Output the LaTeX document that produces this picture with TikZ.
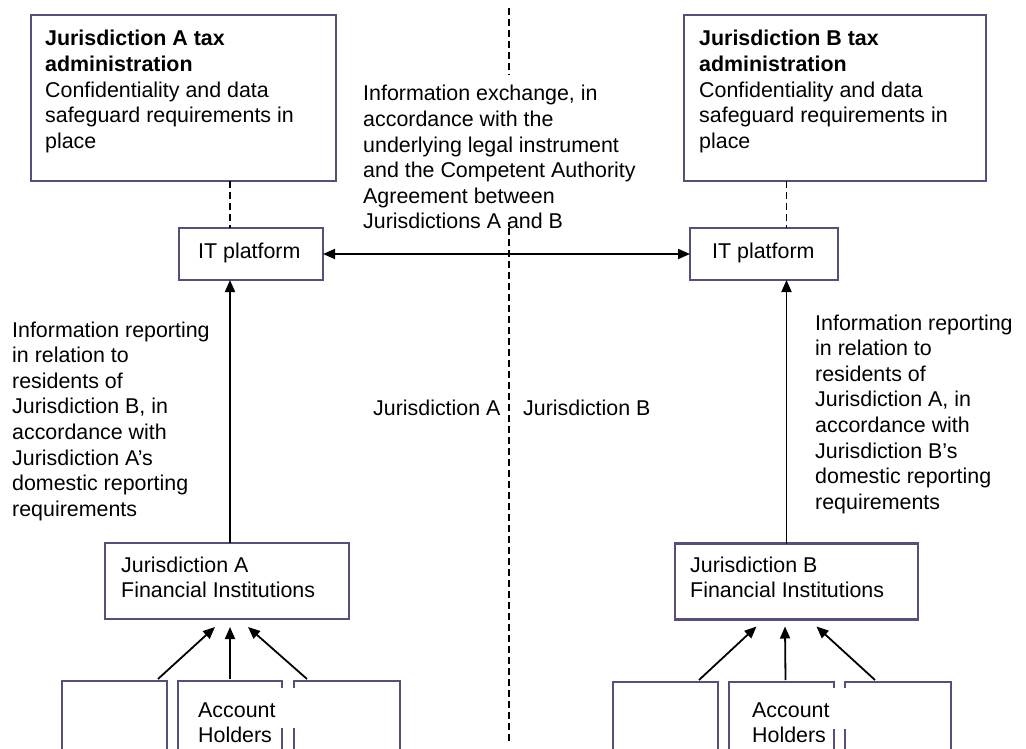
\documentclass[tikz,border=0pt]{standalone}
\usepackage{fontspec}
\setmainfont{Liberation Sans}
\usetikzlibrary{arrows.meta,calc}
\definecolor{boxpurple}{RGB}{90,77,126}
\newcommand{\lns}[1]{\begin{tabular}[t]{@{}l@{}}#1\end{tabular}}
\begin{document}
\begin{tikzpicture}[x=1pt,y=-1pt,
  font=\fontsize{21.4pt}{25.6pt}\selectfont,
  box/.style={draw=boxpurple, line width=2.8pt, rectangle, inner sep=0pt, outer sep=0pt},
  txt/.style={anchor=base west, inner sep=0pt},
  conn/.style={line width=1.8pt, -{Triangle[length=12pt,width=10pt]}},
  dconn/.style={line width=1.8pt, {Triangle[length=12pt,width=10pt]}-{Triangle[length=12pt,width=10pt]}},
  dline/.style={line width=1.6pt, dash pattern=on 7pt off 4pt}]
\useasboundingbox (0,0) rectangle (1026,749);
\clip (0,0) rectangle (1026,749);

% column guides
\coordinate (colA) at (230,0);
\coordinate (colB) at (786.5,0);
\coordinate (ctop) at (509,8);
\coordinate (cbot) at (509,741);

% central dashed border
\draw[dline] (ctop) -- (cbot);

% boxes
\node[box, minimum width=305pt, minimum height=166pt] (taxA) at (183.5,98) {};
\node[box, minimum width=302pt, minimum height=166pt] (taxB) at (835,98) {};
\node[box, minimum width=144pt, minimum height=52pt] (itA) at (251,254) {};
\node[box, minimum width=148pt, minimum height=52pt] (itB) at (764,254) {};
\node[box, minimum width=244pt, minimum height=76pt] (fiA) at (227,581) {};
\node[box, minimum width=243pt, minimum height=76pt] (fiB) at (796.5,581.5) {};

\node[box, anchor=north west, minimum width=105pt, minimum height=90pt] (ahA1) at (62,681) {};
\node[box, anchor=north west, minimum width=104pt, minimum height=90pt] (ahA2) at (178,681) {};
\node[box, anchor=north west, minimum width=106pt, minimum height=90pt] (ahA3) at (294,681) {};
\node[box, anchor=north west, minimum width=105pt, minimum height=90pt] (ahB1) at (613,682) {};
\node[box, anchor=north west, minimum width=105pt, minimum height=90pt] (ahB2) at (729,682) {};
\node[box, anchor=north west, minimum width=106pt, minimum height=90pt] (ahB3) at (845,682) {};

% texts in tax boxes
\node[txt] (tA) at (45,46) {\lns{\textbf{Jurisdiction A tax}\\ \textbf{administration}\\ Confidentiality and data\\ safeguard requirements in\\ place}};
\node[txt] (tB) at (699,46) {\lns{\textbf{Jurisdiction B tax}\\ \textbf{administration}\\ Confidentiality and data\\ safeguard requirements in\\ place}};

% dashed links tax -> IT
\draw[dline] (taxA.south -| colA) -- (itA.north -| colA);
\draw[dline] (taxB.south -| colB) -- (itB.north -| colB);

% IT platform labels
\node[txt] (itAt) at (198,258) {IT platform};
\node[txt] (itBt) at (712,258) {IT platform};

% exchange arrow
\draw[dconn] (itA.east) -- (itB.west);

% central text with white backing
\fill[white] (355,75) rectangle (665,222);
\node[txt] (exch) at (363,101) {\lns{Information exchange, in\\ accordance with the\\ underlying legal instrument\\ and the Competent Authority\\ Agreement between\\ Jurisdictions A and B}};

% jurisdiction labels
\node[txt] (jA) at (373,415) {Jurisdiction A};
\node[txt] (jB) at (523,415) {Jurisdiction B};

% reporting texts
\node[txt] (repA) at (12,337) {\lns{Information reporting\\ in relation to\\ residents of\\ Jurisdiction B, in\\ accordance with\\ Jurisdiction A’s\\ domestic reporting\\ requirements}};
\node[txt] (repB) at (815,330) {\lns{Information reporting\\ in relation to\\ residents of\\ Jurisdiction A, in\\ accordance with\\ Jurisdiction B’s\\ domestic reporting\\ requirements}};

% reporting arrows
\draw[conn] (fiA.north -| colA) -- (itA.south -| colA);
\draw[conn] (fiB.north -| colB) -- (itB.south -| colB);

% FI labels
\node[txt] (fiAt) at (121,572) {\lns{Jurisdiction A\\ Financial Institutions}};
\node[txt] (fiBt) at (690,572) {\lns{Jurisdiction B\\ Financial Institutions}};

% account holder arrows
\draw[conn] ($(ahA1.north east)+(-9,-2)$) -- ($(fiA.south)+(-12,8)$);
\draw[conn] ($(ahA2.north)+(0,-2)$) -- ($(fiA.south)+(3,8)$);
\draw[conn] ($(ahA3.north west)+(13,-2)$) -- ($(fiA.south)+(21,8)$);
\draw[conn] ($(ahB1.north east)+(-19,-2)$) -- ($(fiB.south)+(-40,7)$);
\draw[conn] ($(ahB2.north)+(4,-2)$) -- ($(fiB.south)+(-11.5,7)$);
\draw[conn] ($(ahB3.north west)+(30,-2)$) -- ($(fiB.south)+(20,7)$);

% account holders labels with white backing
\fill[white] (182,688) rectangle (298,728);
\fill[white] (736,688) rectangle (851,729);
\node[txt] (ahAt) at (198,717) {\lns{Account\\ Holders}};
\node[txt] (ahBt) at (752,717) {\lns{Account\\ Holders}};
\end{tikzpicture}
\end{document}
